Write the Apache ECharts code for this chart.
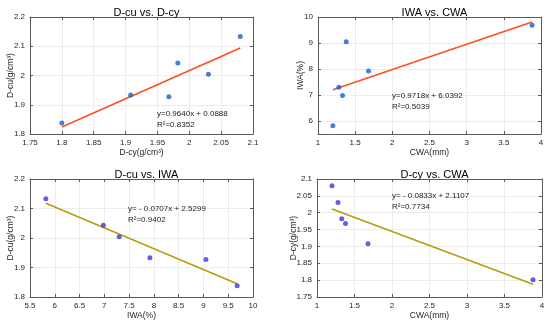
<!DOCTYPE html>
<html><head><meta charset="utf-8">
<script src="https://cdn.jsdelivr.net/npm/echarts@6/dist/echarts.min.js"></script>
<style>html,body{margin:0;padding:0;background:#fff}#c{width:550px;height:324px}</style>
</head><body><div id="c"></div>
<script>
const panelTitles = ['D-cu vs. D-cy', 'IWA vs. CWA', 'D-cu vs. IWA', 'D-cy vs. CWA'];
// Panel 1: D-cu vs. D-cy
const p1X = [1.80, 1.908, 1.968, 1.982, 2.030, 2.080];
const p1Y = [1.838, 1.933, 1.927, 2.043, 2.004, 2.133];
const p1Fit = [[1.80, 1.824], [2.08, 2.094]];
// Panel 2: IWA vs. CWA
const p2X = [1.20, 1.28, 1.33, 1.38, 1.68, 3.88];
const p2Y = [5.82, 7.30, 6.98, 9.05, 7.92, 9.68];
const p2Fit = [[1.20, 7.205], [3.88, 9.810]];
// Panel 3: D-cu vs. IWA
const p3X = [5.82, 6.98, 7.30, 7.92, 9.05, 9.68];
const p3Y = [2.133, 2.043, 2.004, 1.933, 1.927, 1.838];
const p3Fit = [[5.82, 2.118], [9.68, 1.845]];
// Panel 4: D-cy vs. CWA
const p4X = [1.20, 1.28, 1.33, 1.38, 1.68, 3.88];
const p4Y = [2.080, 2.030, 1.982, 1.968, 1.908, 1.801];
const p4Fit = [[1.20, 2.011], [3.88, 1.788]];

const eqTexts = [['y=0.9640x + 0.0888', 'R²=0.8352'], ['y=0.9718x + 6.0392', 'R²=0.5039'],
                 ['y= - 0.0707x + 2.5299', 'R²=0.9402'], ['y= - 0.0833x + 2.1107', 'R²=0.7734']];
const xNames = ['D-cy(g/cm³)', 'CWA(mm)', 'IWA(%)', 'CWA(mm)'];
const yNames = ['D-cu(g/cm³)', 'IWA(%)', 'D-cu(g/cm³)', 'D-cy(g/cm³)'];
const xRanges = [[1.75, 2.1, 0.05], [1, 4, 0.5], [5.5, 10, 0.5], [1, 4, 0.5]];
const yRanges = [[1.8, 2.2, 0.1], [5.5, 10, 0.5], [1.8, 2.2, 0.1], [1.75, 2.1, 0.05]];
const p2YTicks = [6, 7, 8, 9, 10];

const grids = [
  {left: 30, top: 17, width: 223, height: 117},
  {left: 318, top: 17, width: 223, height: 117},
  {left: 30, top: 179, width: 223, height: 118},
  {left: 317, top: 179, width: 225, height: 118}
];
const eqPos = [[157, 110], [392, 92], [128, 205], [392, 192]];
const markerColors = ['#1b5fc8', '#1b5fc8', '#3a3ad6', '#3a3ad6'];
const lineColors = ['#ff4f1f', '#ff4f1f', '#b89b0c', '#b89b0c'];
const yNameGaps = [15, 13, 15, 19];
const xs = [p1X, p2X, p3X, p4X], ys = [p1Y, p2Y, p3Y, p4Y], fits = [p1Fit, p2Fit, p3Fit, p4Fit];

const font = "'Liberation Sans', Arial, sans-serif";
const axisCol = '#5a5a5a';
const fmt = (v) => String(+v.toFixed(3));
const xAxis = [], yAxis = [], series = [], graphic = [], title = [];
for (let i = 0; i < 4; i++) {
  const xr = xRanges[i], yr = yRanges[i], g = grids[i];
  const custom = i === 1 ? p2YTicks : undefined;
  xAxis.push({
    type: 'value', gridIndex: i, min: xr[0], max: xr[1], interval: xr[2], position: 'bottom',
    name: xNames[i], nameLocation: 'middle', nameGap: 14, nameMoveOverlap: false,
    nameTextStyle: {fontFamily: font, fontSize: 8.5, color: '#262626'},
    axisLine: {show: true, onZero: false, lineStyle: {color: axisCol, width: 1}},
    axisTick: {show: true, inside: true, length: 3, lineStyle: {color: axisCol}},
    axisLabel: {fontFamily: font, fontSize: 8, color: '#262626', margin: 5, formatter: fmt},
    splitLine: {show: true, lineStyle: {color: '#ececec', width: 1}}
  });
  xAxis.push({
    type: 'value', gridIndex: i, min: xr[0], max: xr[1], interval: xr[2], position: 'top',
    axisLine: {show: true, onZero: false, lineStyle: {color: axisCol, width: 1}},
    axisTick: {show: true, inside: true, length: 3, lineStyle: {color: axisCol}},
    axisLabel: {show: false}, splitLine: {show: false}
  });
  yAxis.push({
    type: 'value', gridIndex: i, min: yr[0], max: yr[1], interval: yr[2], position: 'left',
    name: yNames[i], nameLocation: 'middle', nameGap: yNameGaps[i], nameRotate: 90, nameMoveOverlap: false,
    nameTextStyle: {fontFamily: font, fontSize: 8.5, color: '#262626'},
    axisLine: {show: true, onZero: false, lineStyle: {color: axisCol, width: 1}},
    axisTick: {show: true, inside: true, length: 3, lineStyle: {color: axisCol}, customValues: custom},
    axisLabel: {fontFamily: font, fontSize: 8, color: '#262626', margin: 5, formatter: fmt, customValues: custom},
    splitLine: {show: true, lineStyle: {color: '#ececec', width: 1}}
  });
  yAxis.push({
    type: 'value', gridIndex: i, min: yr[0], max: yr[1], interval: yr[2], position: 'right',
    axisLine: {show: true, onZero: false, lineStyle: {color: axisCol, width: 1}},
    axisTick: {show: true, inside: true, length: 3, lineStyle: {color: axisCol}, customValues: custom},
    axisLabel: {show: false}, splitLine: {show: false}
  });
  title.push({
    text: panelTitles[i], left: g.left + g.width / 2, top: g.top - 15, textAlign: 'center',
    textStyle: {fontFamily: font, fontSize: 11, fontWeight: 'normal', color: '#000'}
  });
  series.push({
    type: 'line', xAxisIndex: 2 * i, yAxisIndex: 2 * i, data: fits[i], symbol: 'none',
    lineStyle: {color: lineColors[i], width: 1.5}, z: 2, silent: true
  });
  series.push({
    type: 'scatter', xAxisIndex: 2 * i, yAxisIndex: 2 * i,
    data: xs[i].map((x, k) => [x, ys[i][k]]), symbolSize: 5,
    itemStyle: {color: markerColors[i]}, z: 3
  });
  graphic.push({type: 'text', left: eqPos[i][0], top: eqPos[i][1], z: 100,
    style: {text: eqTexts[i][0], fontSize: 8, fontFamily: font, fill: '#1a1a1a'}});
  graphic.push({type: 'text', left: eqPos[i][0], top: eqPos[i][1] + 11, z: 100,
    style: {text: eqTexts[i][1], fontSize: 8, fontFamily: font, fill: '#1a1a1a'}});
}

const chart = echarts.init(document.getElementById('c'), null, {renderer: 'canvas'});
chart.setOption({
  animation: false, backgroundColor: '#fff',
  title, grid: grids, xAxis, yAxis, series, graphic
});
</script></body></html>
